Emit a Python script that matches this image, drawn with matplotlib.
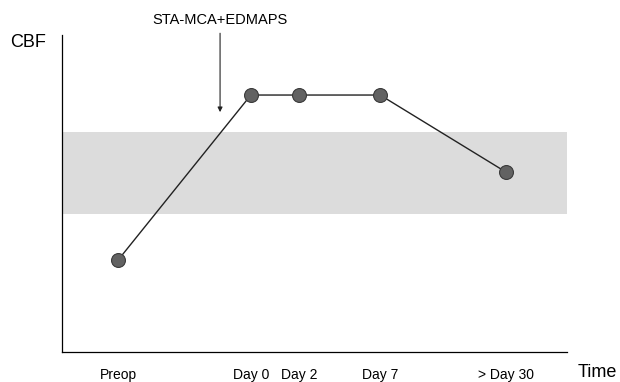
import numpy as np
import matplotlib.pyplot as plt

plt.rcParams['font.family'] = ['Liberation Sans', 'DejaVu Sans']

# data (arbitrary units)
labels = ['Preop', 'Day 0', 'Day 2', 'Day 7', '> Day 30']
x_pos = [1.11, 3.74, 4.69, 6.30, 8.79]
cbf = [2.90, 8.11, 8.11, 8.11, 5.68]
normal_range = [4.35, 6.94]

fig = plt.figure(figsize=(6.2, 3.82), dpi=100)
ax = fig.add_axes([0.1, 0.0785, 0.8145, 0.8295])

ax.axhspan(normal_range[0], normal_range[1], color='#dcdcdc', lw=0, zorder=0)
ax.plot(x_pos, cbf, '-', color='#222222', lw=1.0, zorder=2)
ax.plot(x_pos, cbf, 'o', ms=10, mfc='#626262', mec='#3a3a3a', mew=0.8, zorder=3)

ax.set_xlim(0, 10)
ax.set_ylim(0, 10)
ax.set_xticks(x_pos)
ax.set_xticklabels(labels, fontsize=10)
ax.tick_params(axis='x', length=0, pad=11.5)
ax.set_yticks([])
for s in ['top', 'right']:
    ax.spines[s].set_visible(False)
for s in ['left', 'bottom']:
    ax.spines[s].set_linewidth(0.9)

# axis titles
fig.text(0.016, 0.89, 'CBF', fontsize=13, va='center', ha='left')
fig.text(0.932, 0.024, 'Time', fontsize=13, va='center', ha='left')

# surgery annotation
ax.annotate('', xy=(3.13, 7.57), xytext=(3.13, 10.06),
            arrowprops=dict(arrowstyle='-|>', color='#222222', lw=0.8,
                            mutation_scale=7, shrinkA=0, shrinkB=0),
            annotation_clip=False)
ax.text(3.13, 10.47, 'STA-MCA+EDMAPS', fontsize=10.5, ha='center', va='center',
        clip_on=False)

plt.savefig('out.png', dpi=100)
